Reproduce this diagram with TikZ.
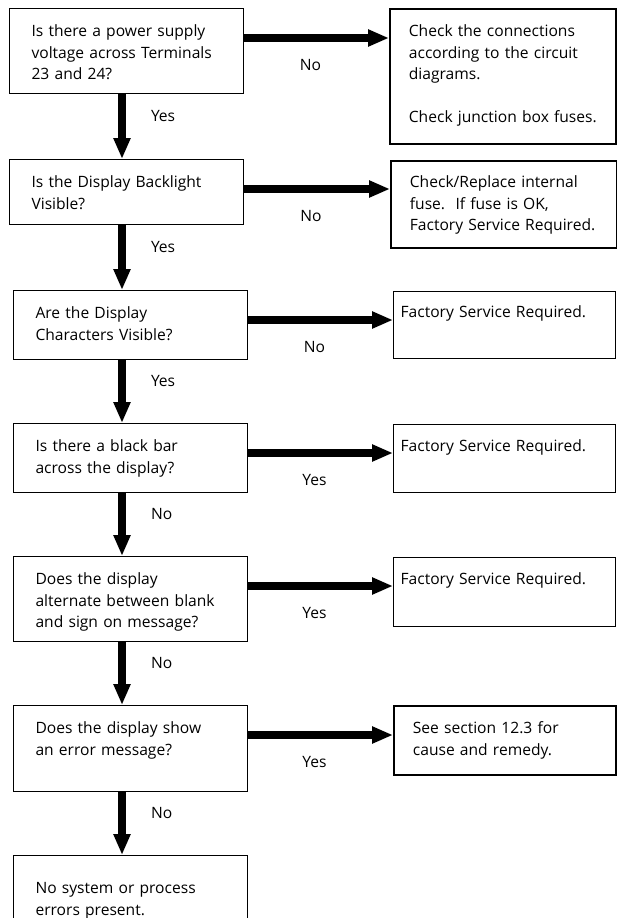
\documentclass[tikz,border=0pt]{standalone}
\usepackage{fontspec}
\setmainfont{Open Sans}
\frenchspacing
\usetikzlibrary{arrows.meta,positioning,calc}

\begin{document}
\begin{tikzpicture}[x=1pt, y=-1pt,
    font=\fontsize{15.6pt}{21.5pt}\selectfont,
    qbox/.style={rectangle, draw=black, line width=1.1pt, anchor=north west, align=left, inner ysep=0pt, inner xsep=22pt, text height=28pt, text width=190pt},
    abox/.style={rectangle, draw=black, line width=1.8pt, anchor=north west, align=left, inner ysep=0pt, inner xsep=19pt, text height=28pt, text width=188pt},
    sbox/.style={rectangle, draw=black, line width=1.3pt, anchor=north west, align=left, inner ysep=0pt, inner xsep=7pt, text height=27pt, text width=208pt},
    flow/.style={line width=8pt, -{Triangle[length=21pt, width=16pt]}},
    lbl/.style={inner sep=0pt}
]
\useasboundingbox (0,0) rectangle (616,918);

% Questions
\node[qbox, text depth=57pt] (q1) at (9,8) {Is there a power supply\\voltage across Terminals\\23 and 24?};
\node[qbox, text depth=37pt] (q2) at (9,159) {Is the Display Backlight\\Visible?};
\node[qbox, text depth=41pt] (q3) at (13,290) {Are the Display\\Characters Visible?};
\node[qbox, text depth=41pt] (q4) at (13,423) {Is there a black bar\\across the display?};
\node[qbox, text depth=57pt] (q5) at (13,556) {Does the display\\alternate between blank\\and sign on message?};
\node[qbox, text depth=58pt] (q6) at (13,705) {Does the display show\\an error message?};
\node[qbox, text height=38pt, text depth=50pt] (q7) at (13,855) {No system or process\\errors present.};

% Actions
\node[abox, text depth=107pt] (r1) at (389,8) {Check the connections\\according to the circuit\\diagrams.\\[21.5pt]Check junction box fuses.};
\node[abox, text height=27pt, text depth=60pt] (r2) at (390,160) {Check/Replace internal\\fuse.\ \ If fuse is OK,\\Factory Service Required.};
\node[sbox, text height=26pt, text depth=41pt] (r3) at (393,291) {Factory Service Required.};
\node[sbox, text depth=41pt] (r4) at (393,424) {Factory Service Required.};
\node[sbox, text depth=42pt] (r5) at (393,557) {Factory Service Required.};
\node[abox, text width=184pt, text depth=41pt] (r6) at (393,705) {See section 12.3 for\\cause and remedy.};

% Downward flow
\coordinate (axis) at (122,0);
\foreach \a/\b/\t in {q1/q2/Yes, q2/q3/Yes, q3/q4/Yes, q4/q5/No, q5/q6/No, q6/q7/No}
  \draw[flow] (\a.south -| axis) -- node[lbl, pos=0.33, right=25pt] {\t} (\b.north -| axis);

% Sideways flow
\foreach \a/\b/\t in {q1/r1/No, q2/r2/No, q3/r3/No, q4/r4/Yes, q5/r5/Yes, q6/r6/Yes} {
  \coordinate (\a-out) at ([yshift=-30pt]\a.north east);
  \draw[flow] (\a-out) -- node[lbl, xshift=-6pt, yshift=-27pt] {\t} (\a-out -| \b.west);
}

\end{tikzpicture}
\end{document}
